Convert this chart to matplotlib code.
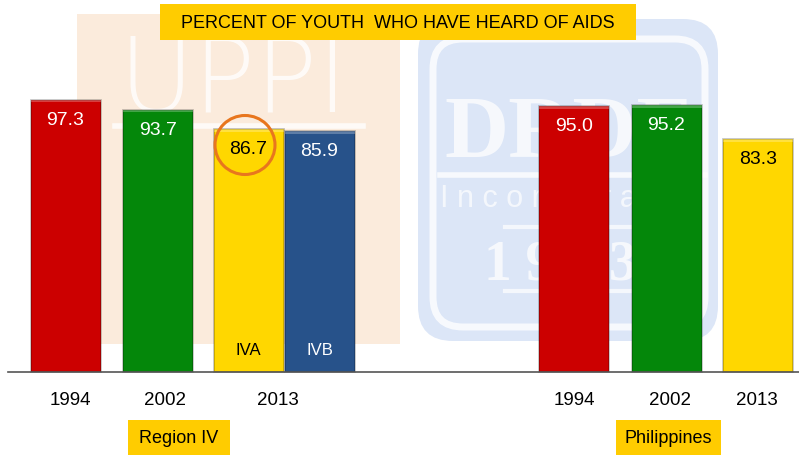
import matplotlib.pyplot as plt
from matplotlib.patches import Rectangle, FancyBboxPatch, Ellipse

plt.rcParams["font.family"] = ["Liberation Sans", "DejaVu Sans"]

# data
title = "PERCENT OF YOUTH  WHO HAVE HEARD OF AIDS"
bar_values = [97.3, 93.7, 86.7, 85.9, 95.0, 95.2, 83.3]
bar_colors = ["#cc0000", "#04870a", "#ffd700", "#27528a", "#cc0000", "#04870a", "#ffd700"]
bar_text_colors = ["white", "white", "black", "white", "white", "white", "black"]
bar_inner_labels = ["", "", "IVA", "IVB", "", "", ""]
year_labels = ["1994", "2002", "2013", "1994", "2002", "2013"]
group_labels = ["Region IV", "Philippines"]

# layout (pixel units across the 799 px wide figure)
bar_x = [65.5, 158, 248.5, 319.5, 574, 666.5, 758]
bar_w = 70
year_x = [70, 165, 278, 574, 670, 757]
group_box = [(128, 230), (616, 721)]

W, H = 799, 456
base_px = 373  # baseline, pixels from top
scale = 2.8  # pixels per percent

fig = plt.figure(figsize=(W / 100, H / 100), dpi=100)

# background / decoration axes in pixel coords (top-down)
px = fig.add_axes([0, 0, 1, 1])
px.set_xlim(0, W)
px.set_ylim(H, 0)
px.set_axis_off()

# faint watermarks
px.add_patch(Rectangle((77, 15), 323, 330, facecolor="#fbebdc", edgecolor="none", zorder=0))
px.text(233, 112, "UPPI", fontsize=74, color="white", alpha=0.8, ha="center",
        va="baseline", family=["DejaVu Sans"], fontweight="light", zorder=1)
px.plot([115, 363], [127, 127], color="white", lw=4, alpha=0.8, zorder=1)
px.add_patch(FancyBboxPatch((418, 20), 300, 322, boxstyle="round,pad=0,rounding_size=35",
                            facecolor="#dce6f7", edgecolor="none", zorder=0))
px.add_patch(FancyBboxPatch((433, 40), 272, 288, boxstyle="round,pad=0,rounding_size=30",
                            facecolor="none", edgecolor="white", lw=5, alpha=0.8, zorder=1))
px.text(568, 157, "DRDF", fontsize=64, color="white", alpha=0.75, ha="center",
        va="baseline", family=["Liberation Serif"], fontweight="bold", zorder=1)
px.plot([440, 705], [176, 176], color="white", lw=4, alpha=0.8, zorder=1)
px.text(440, 207, "I n c o r p o r a t e d", fontsize=22, color="white", alpha=0.7,
        ha="left", va="baseline", family=["Liberation Sans"], zorder=1)
px.plot([505, 630], [228, 228], color="white", lw=3, alpha=0.7, zorder=1)
px.text(560, 280, "1 9 7 3", fontsize=40, color="white", alpha=0.75, ha="center",
        va="baseline", family=["Liberation Serif"], fontweight="bold", zorder=1)
px.plot([505, 630], [292, 292], color="white", lw=3, alpha=0.7, zorder=1)

# title box
px.add_patch(Rectangle((160, 5), 476, 36, facecolor="#ffcc00", edgecolor="none", zorder=2))
px.text(398, 23.5, title, fontsize=13, ha="center", va="center", color="black", zorder=3)

# group label boxes
for (x0, x1), lab in zip(group_box, group_labels):
    px.add_patch(Rectangle((x0, 421), x1 - x0, 35, facecolor="#ffcc00", edgecolor="none", zorder=2))
    px.text((x0 + x1) / 2, 439, lab, fontsize=13, ha="center", va="center", color="black", zorder=3)

# chart axes
ax = fig.add_axes([0, 0, 1, 1])
ax.patch.set_alpha(0)
ax.set_xlim(0, W)
ax.set_ylim(-(H - base_px) / scale, base_px / scale)
ax.set_axis_off()

bars = ax.bar(bar_x, bar_values, width=bar_w, color=bar_colors, edgecolor="#00000040",
              linewidth=1.2, zorder=3)
# lighter bevel at top
for b in bars:
    ax.add_patch(Rectangle((b.get_x(), b.get_height() - 1.0), b.get_width(), 1.0,
                           facecolor="white", alpha=0.25, edgecolor="none", zorder=4))

ax.axhline(0, xmin=8 / W, xmax=1, color="#555555", lw=1.2, zorder=5)

for x, v, tc, lab in zip(bar_x, bar_values, bar_text_colors, bar_inner_labels):
    ax.annotate(f"{v:.1f}", (x, v), xytext=(0, -14), textcoords="offset points",
                ha="center", va="center", fontsize=14, color=tc, zorder=6)
    if lab:
        ax.annotate(lab, (x, 0), xytext=(0, 16.5), textcoords="offset points",
                    ha="center", va="center", fontsize=12, color=tc, zorder=6)

for x, lab in zip(year_x, year_labels):
    ax.annotate(lab, (x, 0), xytext=(0, -19.5), textcoords="offset points",
                ha="center", va="center", fontsize=13.5, color="black")

# highlight circle around the IVA value
ax.add_patch(Ellipse((245, 146), 60, 59, transform=px.transData, facecolor="none",
                     edgecolor="#e8761e", lw=2.2, zorder=7))

fig.savefig("out.png", dpi=100)
